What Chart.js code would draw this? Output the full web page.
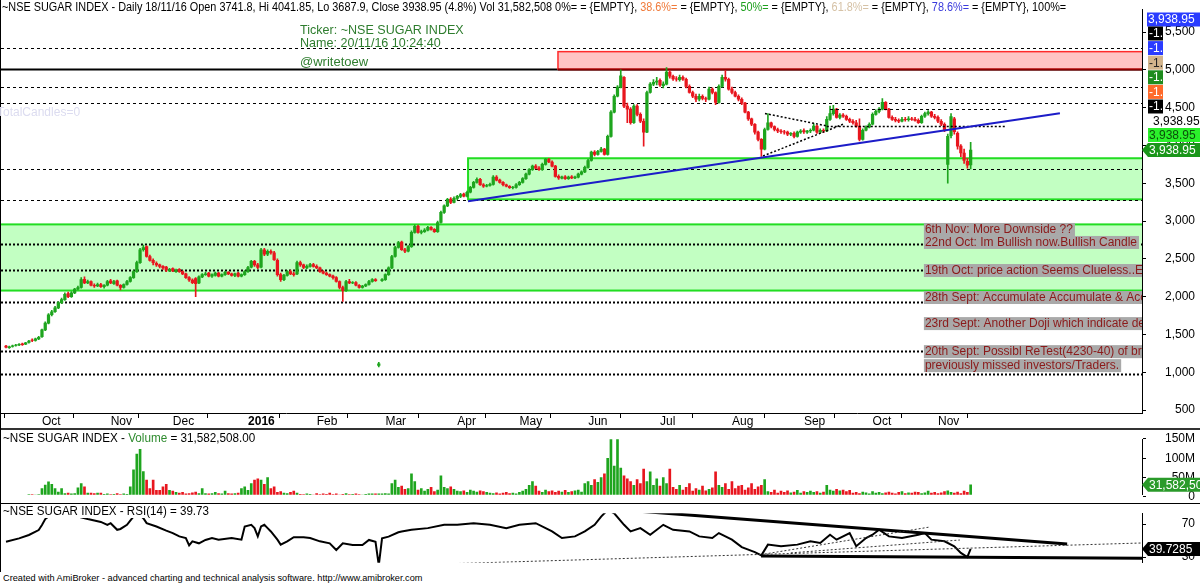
<!DOCTYPE html>
<html>
<head>
<meta charset="utf-8">
<script src="https://cdn.jsdelivr.net/npm/chart.js@4.4.1/dist/chart.umd.min.js"></script>
<style>
  html, body { margin: 0; padding: 0; background: #fff; }
  body { width: 1200px; height: 584px; position: relative; overflow: hidden;
         font-family: "Liberation Sans", Arial, sans-serif; }
  canvas { position: absolute; left: 0; }
  .t { position: absolute; white-space: nowrap; line-height: 13px; transform-origin: 0 0; }
  .sep { position: absolute; left: 0; width: 1200px; background: #000; }
</style>
</head>
<body>
<canvas id="cPrice" width="1200" height="430" style="top:0"></canvas>
<canvas id="cVol" width="1200" height="74" style="top:430px"></canvas>
<canvas id="cRsi" width="1200" height="68" style="top:504px"></canvas>

<div class="sep" style="top:428px;height:2px;background:#333"></div>
<div class="sep" style="top:503px;height:1px"></div>
<div style="position:absolute;left:0;top:0;width:1px;height:572px;background:#000"></div>

<div class="t" style="left:2px;top:1px;font-size:12px;transform:scaleX(0.905)">~NSE SUGAR INDEX - Daily 18/11/16 Open 3741.8, Hi 4041.85, Lo 3687.9, Close 3938.95 (4.8%) Vol 31,582,508 0%= = {EMPTY}, <span style="color:#f07a3a">38.6%=</span> = {EMPTY}, <span style="color:#1fa01f">50%=</span> = {EMPTY}, <span style="color:#d6c2a6">61.8%=</span> = {EMPTY}, <span style="color:#3b3bdc">78.6%=</span> = {EMPTY}, 100%=</div>
<div class="t" style="left:300px;top:23px;font-size:13px;color:#2e7d2e;transform:scaleX(0.965)">Ticker: ~NSE SUGAR INDEX<br>Name: 20/11/16 10:24:40</div>
<div class="t" style="left:300px;top:55px;font-size:13px;color:#2e7d2e">@writetoew</div>
<div class="t" style="left:-3px;top:106px;font-size:12px;color:#dcdcf0">TotalCandles=0</div>
<div class="t" style="left:3px;top:432px;font-size:12px;transform:scaleX(0.975)">~NSE SUGAR INDEX - <span style="color:#2e8b2e">Volume</span> = 31,582,508.00</div>
<div class="t" style="left:3px;top:505px;font-size:12px;background:#fff;padding-right:2px;transform:scaleX(0.965)">~NSE SUGAR INDEX - RSI(14) = 39.73</div>
<div class="t" style="left:3px;top:573px;font-size:9px;line-height:10px;transform:scaleX(1.02)">Created with AmiBroker - advanced charting and technical analysis software. http://www.amibroker.com</div>

<script>
// Daily bars, 21 Sep 2015 .. 18 Nov 2016 (index 0 = first bar)
const opens = [
  1345,1325,1340,1355,1360,1375,1370,1395,1425,1420,
  1440,1470,1560,1650,1760,1800,1850,1920,1960,2040,
  2000,2050,2100,2120,2230,2180,2200,2150,2140,2160,2130,
  2150,2210,2170,2210,2150,2120,2160,2200,2250,2330,2450,2620,2660,2530,2480,2440,2420,2400,2390,
  2340,2370,2330,2360,2330,2300,2250,2220,2240,2180,2260,2290,2310,2270,2280,2310,2270,2290,2320,2300,2280,2310,2270,
  2290,2330,2390,2465,2420,2390,2620,2560,2600,2580,2480,2290,2225,2280,2330,2300,2300,2450,2420,2380,2400,
  2425,2400,2380,2330,2310,2290,2270,2250,2200,2120,2080,2200,2180,2185,2150,2120,2140,2160,2200,2225,1090,
  2210,2225,2290,2380,2530,2650,2720,2620,2600,2660,2850,2930,2850,2860,2880,2915,2890,2860,2980,3115,3200,3290,
  3245,3300,3325,3355,3330,3380,3445,3510,3550,3480,3460,3470,3485,3580,3540,3510,3480,3460,3440,
  3445,3480,3510,3560,3620,3680,3725,3700,3680,3750,3815,3780,3725,3590,3565,3585,3560,3585,3570,3580,3620,
  3650,3710,3800,3910,3880,3920,3950,3880,4120,4440,4650,4770,4900,4520,4480,4300,4520,4410,4320,4175,4700,4810,
  4835,4860,4790,4810,4970,4915,4880,4870,4900,4875,4780,4700,4650,4610,4650,4620,4610,4745,4700,4570,4780,4900,
  4875,4745,4700,4650,4610,4560,4440,4350,4280,4175,4080,3950,4210,4300,4250,4210,4190,4180,4175,4150,4160,4120,
  4175,4195,4175,4190,4200,4255,4175,4200,4190,4345,4420,4480,4370,4400,4385,4345,4320,4300,4255,4080,4200,
  4240,4280,4410,4450,4480,4570,4480,4370,4345,4330,4320,4345,4340,4350,4345,4330,4300,4385,4420,4440,
  4385,4370,4320,4280,3750,4130,4350,4160,3990,3900,3790,3741.8
];
const highs = [
  1355,1345,1360,1370,1380,1385,1395,1420,1440,1450,
  1475,1570,1665,1775,1820,1870,1935,1980,2050,2060,
  2065,2110,2140,2250,2260,2220,2210,2170,2180,2175,2160,
  2215,2230,2215,2220,2160,2170,2215,2265,2345,2470,2640,2680,2670,2550,2500,2460,2430,2410,2400,
  2375,2380,2365,2370,2340,2310,2265,2235,2250,2275,2305,2320,2320,2300,2325,2320,2300,2335,2330,2310,2310,2320,2300,
  2345,2400,2480,2480,2440,2640,2640,2620,2620,2600,2500,2310,2295,2345,2350,2320,2470,2470,2430,2420,2440,
  2440,2420,2390,2345,2325,2300,2285,2265,2210,2140,2215,2230,2200,2200,2160,2150,2170,2215,2240,2240,1130,
  2240,2300,2395,2545,2665,2730,2735,2640,2675,2870,2950,2945,2880,2900,2930,2925,2900,3000,3130,3215,3300,3310,
  3320,3340,3365,3370,3395,3460,3525,3570,3565,3495,3485,3500,3600,3600,3555,3520,3490,3470,3460,
  3495,3525,3575,3635,3695,3740,3745,3720,3765,3830,3830,3795,3735,3610,3595,3600,3595,3600,3595,3635,3665,
  3725,3815,3925,3930,3935,3975,3960,4135,4460,4670,4790,5000,4910,4560,4500,4540,4540,4430,4350,4720,4830,4870,
  4900,4880,4840,5030,4990,4930,4910,4930,4920,4890,4800,4720,4680,4680,4670,4640,4770,4760,4710,4800,4930,4990,
  4890,4770,4720,4670,4630,4570,4450,4360,4290,4190,4090,4230,4420,4310,4260,4230,4210,4200,4190,4170,4180,4190,
  4210,4220,4200,4220,4290,4270,4220,4220,4380,4520,4530,4490,4420,4420,4400,4360,4340,4330,4350,4220,4260,
  4300,4430,4470,4500,4620,4580,4490,4390,4370,4350,4370,4370,4380,4370,4370,4350,4400,4440,4460,4450,
  4410,4390,4340,4300,4150,4420,4370,4180,4010,3950,3830,4041.85
];
const lows = [
  1320,1315,1330,1345,1350,1355,1365,1385,1405,1410,
  1430,1460,1550,1640,1745,1790,1840,1905,1950,1985,
  1990,2040,2090,2110,2170,2170,2140,2120,2130,2120,2110,
  2140,2170,2160,2140,2090,2110,2150,2190,2240,2320,2440,2600,2520,2470,2420,2400,2380,2360,2330,
  2330,2330,2320,2320,2290,2240,2200,2170,2000,2170,2250,2280,2260,2255,2270,2260,2260,2280,2290,2270,2265,2260,2260,
  2280,2320,2380,2400,2370,2380,2540,2540,2560,2480,2270,2200,2210,2270,2290,2270,2290,2400,2370,2370,2390,
  2390,2370,2320,2300,2280,2260,2230,2190,2100,1935,2070,2170,2170,2140,2110,2110,2130,2150,2190,2200,1070,
  2200,2215,2280,2370,2520,2640,2610,2580,2590,2650,2840,2840,2830,2850,2870,2880,2850,2850,2970,3100,3190,3230,
  3240,3280,3310,3320,3320,3370,3435,3500,3470,3445,3450,3460,3475,3530,3500,3465,3450,3430,3425,
  3435,3470,3500,3550,3610,3670,3690,3670,3670,3740,3770,3715,3580,3550,3555,3550,3550,3560,3560,3570,3610,
  3640,3700,3790,3860,3870,3910,3870,3870,4110,4430,4640,4760,4500,4300,4280,4290,4390,4300,3990,4170,4690,4790,
  4800,4780,4760,4800,4890,4860,4850,4850,4860,4760,4690,4630,4580,4590,4600,4580,4600,4680,4540,4560,4770,4850,
  4730,4680,4640,4590,4540,4430,4330,4260,4150,4060,3855,3940,4200,4230,4190,4170,4160,4150,4130,4130,4100,4110,
  4160,4160,4160,4170,4190,4160,4160,4170,4180,4330,4400,4360,4350,4370,4330,4300,4280,4240,4060,4070,4190,
  4230,4270,4400,4430,4470,4470,4360,4330,4310,4300,4310,4320,4320,4330,4320,4290,4290,4370,4400,4370,
  4350,4300,4260,4180,3500,4100,4150,3950,3850,3760,3700,3687.9
];
const closes = [
  1330,1335,1350,1360,1370,1365,1390,1410,1420,1440,
  1460,1560,1650,1760,1800,1850,1920,1960,2030,2000,
  2050,2100,2120,2225,2180,2200,2150,2140,2160,2130,2150,
  2200,2180,2200,2150,2120,2160,2200,2250,2330,2450,2620,2650,2530,2480,2450,2420,2400,2380,2350,
  2360,2340,2350,2330,2300,2250,2220,2185,2170,2260,2290,2300,2270,2290,2310,2270,2290,2320,2300,2280,2300,2270,2290,
  2330,2385,2465,2420,2385,2620,2560,2600,2580,2490,2290,2225,2280,2330,2300,2290,2450,2420,2385,2400,2425,
  2400,2380,2330,2310,2290,2270,2250,2200,2120,2080,2200,2180,2185,2150,2120,2140,2160,2200,2225,2210,1110,
  2225,2290,2380,2530,2650,2715,2620,2600,2660,2850,2930,2850,2860,2880,2915,2890,2860,2980,3115,3200,3285,3245,
  3300,3325,3350,3330,3380,3445,3510,3550,3480,3460,3470,3485,3580,3540,3510,3480,3460,3440,3445,
  3480,3510,3560,3620,3680,3725,3700,3680,3750,3815,3780,3725,3590,3570,3580,3560,3580,3570,3580,3620,3650,
  3710,3800,3910,3880,3920,3950,3880,4120,4440,4650,4770,4920,4520,4480,4300,4520,4410,4320,4175,4700,4810,4835,
  4850,4800,4810,4970,4915,4880,4875,4900,4875,4780,4700,4650,4610,4650,4620,4610,4745,4700,4570,4780,4900,4875,
  4745,4700,4650,4610,4560,4440,4350,4280,4175,4080,3950,4210,4300,4250,4210,4190,4180,4175,4150,4160,4120,4175,
  4190,4180,4190,4200,4255,4175,4200,4190,4345,4420,4480,4370,4400,4385,4345,4320,4300,4255,4080,4200,4240,
  4280,4410,4450,4480,4570,4480,4370,4345,4330,4320,4345,4340,4350,4345,4330,4300,4385,4420,4440,4385,
  4370,4320,4280,4200,4120,4380,4180,3990,3900,3800,3740,3938.95
];
// volume in millions
const volumeM = [
  2,2,2,2,0.5,0.5,1,6,6,5,6,
  22,31,39,33,22,13,22,
  9,10,8,9, 24,35,26, 10,10,9,10,10,
  7,8,6,7,9,6,8,7,
  26,70,111,123,66,44,22,44,17,17,26,33,17,15,
  12,10,12,8,9,11,13,9,22,
  9,8,9,12,9,8,15,9,8,9,10,
  22,26,17,35,44,47,44,33,50,22,26,
  12,14,10,9,12,15,10,
  7,6,8,7,5,9,6,8,7,10,6,8,5,7,9,6,7,8,6,5,7,
  8,8,8,8,8,9,8,
  35,44,25,28,20,
  22,60,40,18,22,15,20,25,14,
  18,55,25,22,26,20,
  15,14,16,12,18,15,13,16,14,12,
  10,9,11,8,10,12,9,10,8,
  12,15,20,30,40,28,
  15,12,18,14,16,12,15,13,17,12,14,16,18,13,
  35,40,30,45,38,50,60,
  100,158,80,150,75,55,47,40,30,45,35,72,40,65,30,47,28,50,35,72,25,
  20,30,18,25,35,15,22,18,28,16,20,24,
  65,30,
  25,35,20,40,22,28,30,18,24,35,20,26,
  30,45,
  14,12,18,10,15,12,16,11,13,17,10,14,12,15,
  12,14,10,13,
  30,18,15,20,16,18,14,17,
  10,12,9,13,11,8,14,10,12,9,11,13,10,8,12,14,9,11,10,13,
  12,9,11,15,10,12,9,11,14,16,12,10,13,9,15,12,
  31.582508
];
// RSI(14) read at selected bars
const rsiAt = [0,4,7,10,11,12,14,17,21,25,29,31,32,34,35,37,38,40,42,43,46,49,51,53,55,56,57,59,61,63,65,69,72,
  73,75,76,77,78,79,80,81,83,84,86,88,91,93,96,99,101,103,106,109,111,113,114,115,117,120,121,124,129,134,138,
  143,148,153,157,162,167,170,174,177,180,182,184,186,189,191,194,197,201,204,209,212,216,218,222,225,229,231,
  233,237,242,246,249,252,254,258,260,263,265,267,270,274,279,281,283,287,290,292,294,295];
const rsiVal = [48.5,52.6,56.7,62.7,68.8,76,82,85,80,76,72.5,69,71,63,64,69,74,84,77,71,67,62,59,55,53,44,49,46.6,
  50.7,53,51,53,51,67,69,65,55,67,69,65,61,51,45,49,54,54,53,49,46.6,38.5,46.6,44.5,44.5,50.7,48.5,20,52.6,54.7,
  60,61,63,65,69,69,71,69,65,69,71,61,53,55,61,69,79,87,83,69,61,65,57,69,63,61,55,53,59,51,42,36,32,45,43,45,
  49,47,57,51,59,43,53,57,63,55,53,57,59,51,49,43,35,30,39.73];

const monthIdx = [10,31,50,73,94,115,137,156,177,199,221,243,264,284];
const monthLabels = ['Oct','Nov','Dec','2016','Feb','Mar','Apr','May','Jun','Jul','Aug','Sep','Oct','Nov'];
const priceTicks = [500,1000,1500,2000,2500,3000,3500,4000,4500,5000,5500];
const volTicks = [0,50,100,150];
const rsiTicks = [30,70];

const lastClose = 3938.95, lastVolM = 31.582508, lastRsi = 39.7285;

// drawn studies (price levels / bar index)
const zoneFrom = [-2, 141.3], zoneLow = [2080, 3286], zoneHigh = [2955, 3830];
const resFrom = 168.8, resLow = 5008, resHigh = 5240;
const dashLevels = [5287, 4770, 4558, 3683, 3272];
const dotLevels = [2690, 2358, 1934, 1285, 980];
const trendAt = [141.3, 322.3], trendVal = [3260, 4426];
const triAt = [[232.1, 251.1], [231.5, 256]], triVal = [[4422, 4257], [3860, 4280]];
const shortFrom = [251, 252], shortTo = [306, 306], shortVal = [4257, 4478];
const noteAt = 280.7;
const noteText = ['6th Nov: More Downside ??', '22nd Oct: Im Bullish now.Bullish Candle',
  '19th Oct: price action Seems Clueless..Expecting', '28th Sept: Accumulate Accumulate & Accumulate',
  '23rd Sept: Another Doji which indicate decision', '20th Sept: Possibl ReTest(4230-40) of breakout for',
  'previously missed investors/Traders.'];
const noteVal = [2888, 2716, 2345, 1988, 1643, 1272, 1087];
const rsiLineAt = [[180.7, 324.5], [230.9, 347.4], [112.8, 347.4], [232, 282.6], [240, 291.7]];
const rsiLineVal = [[89.4, 45.8], [31.2, 28.6], [19.1, 47], [33.6, 66.4], [35, 50.6]];

const FONT = '"Liberation Sans", Arial, sans-serif';
const xMin = -1.53, xMax = 347.4;
const upCol = '#1ea51e', dnCol = '#e8161e';
const barCol = closes.map((c, i) => c >= opens[i] ? upCol : dnCol);

function tag(ctx, x, yc, w, text, bg, fg, arrow) {
  const h = 14;
  ctx.fillStyle = bg;
  ctx.beginPath();
  if (arrow) { ctx.moveTo(x - 6, yc); ctx.lineTo(x, yc - h / 2); } else ctx.moveTo(x, yc - h / 2);
  ctx.lineTo(x + w, yc - h / 2);
  ctx.lineTo(x + w, yc + h / 2);
  ctx.lineTo(x, yc + h / 2);
  ctx.closePath();
  ctx.fill();
  ctx.fillStyle = fg;
  ctx.font = '12px ' + FONT;
  ctx.textAlign = 'left';
  ctx.textBaseline = 'middle';
  ctx.fillText(text, x + 1, yc + 0.5);
}

function clipArea(ctx, a) {
  ctx.beginPath();
  ctx.rect(a.left, a.top, a.right - a.left, a.bottom - a.top);
  ctx.clip();
}

function hline(ctx, a, y, dash, w, col, x0) {
  ctx.beginPath();
  ctx.setLineDash(dash);
  ctx.lineWidth = w;
  ctx.strokeStyle = col;
  ctx.moveTo(x0 === undefined ? a.left : x0, Math.round(y) + 0.5);
  ctx.lineTo(a.right, Math.round(y) + 0.5);
  ctx.stroke();
}

// stretch the value axis so that `zeroPx` (canvas pixel of value 0) and the scale match the picture
function fitY(chart, zeroPx, pxPerUnit) {
  const a = chart.chartArea;
  chart.options.scales.y.min = (zeroPx - a.bottom) / pxPerUnit;
  chart.options.scales.y.max = (zeroPx - a.top) / pxPerUnit;
  chart.update('none');
}

const priceDecor = {
  id: 'priceDecor',
  beforeDatasetsDraw(chart) {
    const { ctx, chartArea: a, scales: { x, y } } = chart;
    ctx.save();
    clipArea(ctx, a);
    // support zones
    zoneFrom.forEach((f, k) => {
      const x0 = Math.max(x.getPixelForValue(f), a.left - 2);
      const yt = y.getPixelForValue(zoneHigh[k]), yb = y.getPixelForValue(zoneLow[k]);
      ctx.fillStyle = '#c2ffc2';
      ctx.fillRect(x0, yt, a.right - x0, yb - yt);
      ctx.strokeStyle = '#22dd22';
      ctx.lineWidth = 2;
      ctx.setLineDash([]);
      ctx.strokeRect(x0, yt, a.right - x0 + 5, yb - yt);
    });
    // levels
    dashLevels.forEach(v => hline(ctx, a, y.getPixelForValue(v), [3, 3], 1, '#000'));
    dotLevels.forEach(v => hline(ctx, a, y.getPixelForValue(v), [2, 2], 2, '#000'));
    // 5000 line and resistance zone
    hline(ctx, a, y.getPixelForValue(resLow), [], 2, '#000');
    const rx = x.getPixelForValue(resFrom);
    const ry1 = y.getPixelForValue(resHigh), ry0 = y.getPixelForValue(resLow);
    ctx.fillStyle = '#ffc4c4';
    ctx.fillRect(rx, ry1, a.right - rx, ry0 - ry1);
    ctx.setLineDash([]);
    ctx.strokeStyle = '#ff2a2a';
    ctx.lineWidth = 1.5;
    ctx.strokeRect(rx, ry1, a.right - rx + 5, ry0 - ry1);
    hline(ctx, a, ry0, [], 2, '#8b0000', rx);
    ctx.restore();
  },
  afterDatasetsDraw(chart) {
    const { ctx, chartArea: a, scales: { x, y } } = chart;
    ctx.save();
    clipArea(ctx, a);
    // triangle and short levels
    ctx.strokeStyle = '#000';
    ctx.lineWidth = 1.5;
    ctx.setLineDash([2, 2]);
    triAt.forEach((p, k) => {
      ctx.beginPath();
      ctx.moveTo(x.getPixelForValue(p[0]), y.getPixelForValue(triVal[k][0]));
      ctx.lineTo(x.getPixelForValue(p[1]), y.getPixelForValue(triVal[k][1]));
      ctx.stroke();
    });
    shortVal.forEach((v, k) => {
      ctx.beginPath();
      ctx.setLineDash(k === 0 ? [2, 2] : [3, 3]);
      ctx.lineWidth = k === 0 ? 1.5 : 1;
      const yy = Math.round(y.getPixelForValue(v)) + 0.5;
      ctx.moveTo(x.getPixelForValue(shortFrom[k]), yy);
      ctx.lineTo(x.getPixelForValue(shortTo[k]), yy);
      ctx.stroke();
    });
    // rising trend line
    ctx.setLineDash([]);
    ctx.strokeStyle = '#1c1cc8';
    ctx.lineWidth = 2;
    ctx.beginPath();
    ctx.moveTo(x.getPixelForValue(trendAt[0]), y.getPixelForValue(trendVal[0]));
    ctx.lineTo(x.getPixelForValue(trendAt[1]), y.getPixelForValue(trendVal[1]));
    ctx.stroke();
    // notes
    ctx.font = '12px ' + FONT;
    ctx.textAlign = 'left';
    ctx.textBaseline = 'middle';
    const nx = x.getPixelForValue(noteAt);
    noteText.forEach((t, k) => {
      const ny = y.getPixelForValue(noteVal[k]);
      const w = ctx.measureText(t).width + 3;
      ctx.fillStyle = '#a9a9a9';
      ctx.fillRect(nx, ny - 6.5, w, 13);
      ctx.fillStyle = '#8b1a1a';
      ctx.fillText(t, nx + 1, ny + 0.5);
    });
    ctx.restore();
  },
  afterDraw(chart) {
    const { ctx, chartArea: a, scales: { y } } = chart;
    const x0 = a.right + 6;
    ctx.save();
    // out-of-range level tags stack at the top of the axis
    tag(ctx, x0 - 1, 19.5, 60, '3,938.95', '#2a3cff', '#fff');
    const fibCols = ['#000', '#2a3cff', '#d2b48c', '#1e8c1e', '#ff6a2a', '#000'];
    fibCols.forEach((c, k) => {
      tag(ctx, x0, 33.5 + k * 14.6, 15, '-1.', c, c === '#d2b48c' ? '#222' : '#fff');
    });
    const vp = y.getPixelForValue(lastClose);
    const txt = lastClose.toLocaleString('en-US', { minimumFractionDigits: 2 });
    ctx.fillStyle = '#fff';
    ctx.fillRect(x0, vp - 36, 60, 14);
    ctx.fillStyle = '#000';
    ctx.font = '12px ' + FONT;
    ctx.textBaseline = 'middle';
    ctx.fillText(txt, x0 + 5, vp - 28.5);
    tag(ctx, x0, vp - 15, 60, txt, '#2bf02b', '#0b4f0b');
    tag(ctx, x0, vp, 60, txt, '#1a961a', '#fff', true);
    ctx.restore();
  }
};

const volDecor = {
  id: 'volDecor',
  afterDraw(chart) {
    const { ctx, chartArea: a, scales: { y } } = chart;
    ctx.save();
    tag(ctx, a.right + 6, y.getPixelForValue(lastVolM), 60, '31,582,508', '#2a9a2a', '#fff', true);
    ctx.restore();
  }
};

const rsiDecor = {
  id: 'rsiDecor',
  afterDatasetsDraw(chart) {
    const { ctx, chartArea: a, scales: { x, y } } = chart;
    ctx.save();
    clipArea(ctx, a);
    rsiLineAt.forEach((p, k) => {
      ctx.beginPath();
      ctx.strokeStyle = k < 2 ? '#000' : '#333';
      ctx.lineWidth = k < 2 ? 3 : 1;
      ctx.setLineDash(k < 2 ? [] : [2, 2]);
      ctx.moveTo(x.getPixelForValue(p[0]), y.getPixelForValue(rsiLineVal[k][0]));
      ctx.lineTo(x.getPixelForValue(p[1]), y.getPixelForValue(rsiLineVal[k][1]));
      ctx.stroke();
    });
    ctx.restore();
  },
  afterDraw(chart) {
    const { ctx, chartArea: a, scales: { y } } = chart;
    ctx.save();
    tag(ctx, a.right + 6, y.getPixelForValue(lastRsi), 60, '39.7285', '#000', '#fff', true);
    ctx.restore();
  }
};

const baseOpts = {
  responsive: false,
  animation: false,
  layout: { padding: { top: 1, left: 1, right: 5, bottom: 0 } },
  plugins: { legend: { display: false }, tooltip: { enabled: false } }
};

function hiddenX() {
  return { type: 'linear', min: xMin, max: xMax, offset: false, display: false };
}

function rightY(min, max, ticks, fmt) {
  return {
    position: 'right', min, max,
    afterBuildTicks: s => { s.ticks = ticks.map(v => ({ value: v })); },
    afterFit: s => { s.width = 53; },
    grid: { drawOnChartArea: false, tickLength: 4, color: '#000' },
    border: { color: '#000', width: 1 },
    ticks: { crossAlign: 'far', padding: 2, color: '#000', font: { family: FONT, size: 12 }, callback: fmt }
  };
}

// price pane
const priceChart = new Chart(document.getElementById('cPrice'), {
  type: 'bar',
  data: {
    datasets: [
      { data: highs.map((h, i) => ({ x: i, y: [lows[i], h] })), backgroundColor: barCol,
        barThickness: 1, grouped: false, order: 2 },
      { data: opens.map((o, i) => ({ x: i, y: [o, closes[i]] })), backgroundColor: barCol,
        barThickness: 2.6, grouped: false, order: 1 }
    ]
  },
  options: {
    ...baseOpts,
    scales: {
      x: {
        type: 'linear', min: xMin, max: xMax, offset: false,
        afterBuildTicks: s => { s.ticks = monthIdx.map(v => ({ value: v })); },
        afterFit: s => { s.height = 17; },
        grid: { drawOnChartArea: false, drawTicks: true, tickLength: 5, color: '#000' },
        border: { color: '#000', width: 1 },
        ticks: {
          autoSkip: false, maxRotation: 0, align: 'start', padding: -4, color: '#000',
          font: c => ({ family: FONT, size: 12, weight: monthLabels[c.index] === '2016' ? 'bold' : 'normal' }),
          callback: (v, i) => ' ' + monthLabels[i]
        }
      },
      y: rightY(464, 5923, priceTicks, v => v.toLocaleString('en-US'))
    }
  },
  plugins: [priceDecor]
});
fitY(priceChart, 447.8, 0.0756);

// volume pane
const volChart = new Chart(document.getElementById('cVol'), {
  type: 'bar',
  data: {
    datasets: [{ data: volumeM.map((v, i) => ({ x: i, y: v })), backgroundColor: barCol, barThickness: 2 }]
  },
  options: {
    ...baseOpts,
    scales: {
      x: hiddenX(),
      y: rightY(-18.1, 170.7, volTicks, v => v === 0 ? '0' : v + 'M')
    }
  },
  plugins: [volDecor]
});
fitY(volChart, 67, 0.3867);

// RSI pane
const rsiChart = new Chart(document.getElementById('cRsi'), {
  type: 'line',
  data: {
    datasets: [{ data: rsiAt.map((i, k) => ({ x: i, y: rsiVal[k] })), borderColor: '#000',
      borderWidth: 2, pointRadius: 0, tension: 0 }]
  },
  options: {
    ...baseOpts,
    scales: {
      x: hiddenX(),
      y: rightY(11.8, 93, rsiTicks, v => String(v))
    }
  },
  plugins: [rsiDecor]
});
fitY(rsiChart, 77.75, 0.825);
</script>
</body>
</html>
